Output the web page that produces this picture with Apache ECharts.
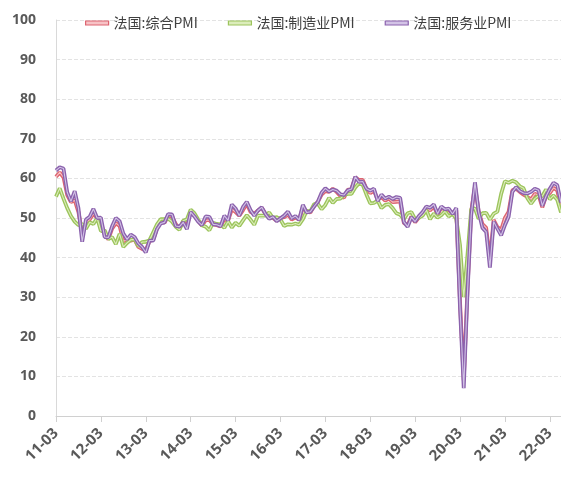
<!DOCTYPE html>
<html>
<head>
<meta charset="utf-8">
<script src="https://cdn.jsdelivr.net/npm/echarts@6/dist/echarts.min.js"></script>
<style>
    html, body { margin: 0; padding: 0; background: #fff; }
    #main { width: 561px; height: 488px; }
</style>
</head>
<body>
<div id="main"></div>
<script>
// 月份：2011-03 ~ 2022-06
let months = [];
for (let y = 11; y <= 22; y++) {
    for (let m = 1; m <= 12; m++) {
        if (y === 11 && m < 3) continue;
        if (y === 22 && m > 6) break;
        months.push(y + '-' + (m < 10 ? '0' + m : m));
    }
}

let legendNames = ['法国:综合PMI', '法国:制造业PMI', '法国:服务业PMI'];

let compositePMI = [
    60.4, 61.5, 60.3, 55.8, 54.0, 54.5, 51.5, 46.3, 48.7, 49.6,
    51.1, 50.0, 48.7, 45.9, 44.6, 47.3, 48.7, 48.0, 44.1, 44.5, 44.3, 44.6,
    42.7, 42.2, 41.9, 44.1, 44.6, 47.4, 49.1, 48.8, 50.5, 50.5, 48.5, 47.3,
    49.2, 47.9, 51.8, 50.6, 49.3, 48.1, 49.4, 49.5, 48.4, 48.2, 47.9, 49.7,
    49.3, 52.2, 51.5, 50.6, 52.0, 53.6, 51.5, 51.1, 51.9, 52.6, 51.0, 50.1,
    50.0, 49.3, 50.0, 50.2, 50.9, 49.6, 50.1, 49.6, 52.7, 51.6, 51.4, 53.1,
    54.1, 55.9, 56.8, 56.6, 57.4, 56.6, 55.6, 55.1, 57.1, 57.4, 60.3, 59.6,
    59.6, 57.3, 56.3, 56.9, 54.6, 55.3, 54.4, 54.9, 54.0, 54.1, 54.2, 48.7,
    48.2, 50.4, 48.9, 50.1, 51.2, 52.7, 51.9, 52.9, 50.8, 52.6, 52.1, 52.0,
    51.1, 52.0, 28.9, 9.0, 32.1, 51.7, 58.0, 51.6, 48.5, 47.5, 39.5, 49.5,
    47.7, 47.0, 50.0, 51.6, 57.0, 57.4, 56.6, 55.9, 55.3, 54.7, 56.1, 55.8,
    52.7, 55.5, 56.3, 57.6, 57.0, 52.5
];

let manufacturingPMI = [
    55.4, 57.5, 54.9, 52.5, 50.5, 49.1, 48.2, 48.5, 47.3, 48.9,
    48.5, 50.0, 46.7, 46.9, 44.7, 45.2, 43.4, 46.0, 42.7, 43.7, 44.5, 44.6,
    42.9, 43.9, 44.0, 44.4, 46.4, 48.4, 49.7, 49.7, 49.8, 49.1, 47.8, 47.0,
    49.3, 49.7, 52.1, 51.2, 49.6, 48.2, 47.8, 46.9, 48.8, 48.5, 48.4, 47.5,
    49.2, 47.6, 48.8, 48.0, 49.4, 50.7, 49.6, 48.3, 50.6, 50.6, 50.6, 51.4,
    50.0, 50.2, 49.6, 48.0, 48.4, 48.3, 48.6, 48.3, 49.7, 51.8, 51.7, 53.5,
    53.6, 52.2, 53.3, 55.1, 53.8, 54.8, 54.9, 55.8, 56.1, 56.1, 57.7, 58.8,
    58.4, 55.9, 53.7, 53.8, 54.4, 52.5, 53.3, 53.5, 52.5, 51.2, 50.8, 49.7,
    51.2, 51.5, 49.7, 50.0, 50.6, 52.0, 49.7, 51.1, 50.1, 50.7, 51.7, 50.4,
    51.1, 49.8, 43.2, 30.0, 40.6, 52.3, 52.4, 49.8, 51.2, 51.3, 49.6, 51.1,
    51.6, 56.1, 59.3, 58.9, 59.4, 59.0, 58.0, 57.5, 55.0, 53.6, 54.9, 55.6,
    55.5, 57.2, 54.7, 55.7, 54.6, 51.4
];

let servicesPMI = [
    62.0, 62.8, 62.5, 56.5, 54.2, 56.8, 52.5, 44.0, 49.6, 50.3,
    52.3, 50.0, 50.1, 45.2, 45.1, 47.9, 50.0, 49.2, 46.1, 44.6, 45.8, 45.2,
    43.6, 42.7, 41.3, 44.3, 44.3, 47.2, 48.6, 48.9, 51.0, 50.9, 48.0, 47.8,
    48.9, 47.2, 51.5, 50.4, 49.1, 48.2, 50.4, 50.3, 48.4, 48.3, 47.9, 50.6,
    49.4, 53.4, 52.4, 50.6, 52.8, 54.1, 52.0, 50.6, 51.9, 52.7, 51.0, 49.8,
    50.3, 49.2, 49.9, 50.6, 51.6, 49.9, 50.5, 49.5, 53.3, 51.4, 51.6, 52.9,
    54.1, 56.4, 57.5, 56.7, 57.2, 56.9, 56.0, 55.8, 57.0, 57.3, 60.4, 59.1,
    59.2, 57.4, 56.9, 57.4, 54.3, 55.9, 54.9, 55.4, 54.8, 55.3, 55.1, 49.0,
    47.8, 50.2, 49.1, 50.5, 51.5, 52.9, 52.6, 53.4, 51.1, 52.9, 52.2, 52.4,
    51.0, 52.5, 27.4, 7.0, 31.1, 50.7, 59.0, 51.5, 47.5, 46.5, 37.5, 49.1,
    47.3, 45.6, 48.2, 50.3, 56.6, 57.8, 56.8, 56.3, 56.2, 56.6, 57.4, 57.0,
    53.1, 55.5, 57.4, 58.9, 58.3, 53.9
];

let outerColors = ['#dd6470', '#9cc45c', '#8b62ad'];
let innerColors = ['#f7c3c6', '#dcedbb', '#d3c3e6'];
let seriesData = [compositePMI, manufacturingPMI, servicesPMI];

let series = [];
for (let i = 0; i < 3; i++) {
    // 外层粗线 + 内层浅色细线，做出双线效果
    series.push({
        name: legendNames[i],
        type: 'line',
        data: seriesData[i],
        symbol: 'none',
        z: 2 + i * 2,
        itemStyle: { color: outerColors[i] },
        lineStyle: { color: outerColors[i], width: 3.8 }
    });
    series.push({
        name: legendNames[i] + '_inner',
        type: 'line',
        data: seriesData[i],
        symbol: 'none',
        silent: true,
        z: 3 + i * 2,
        itemStyle: { color: innerColors[i] },
        lineStyle: { color: innerColors[i], width: 1.1 }
    });
}

let option = {
    backgroundColor: '#fff',
    animation: false,
    textStyle: {
        fontFamily: '"Noto Sans", "Noto Sans CJK SC", sans-serif'
    },
    legend: {
        top: 11,
        left: 80,
        itemGap: 30,
        itemWidth: 23,
        itemHeight: 4,
        textStyle: {
            color: '#404040',
            fontSize: 14,
            fontFamily: '"Noto Sans CJK SC", sans-serif'
        },
        data: legendNames.map(function (n, i) {
            return {
                name: n,
                icon: 'rect',
                itemStyle: { color: innerColors[i], borderColor: outerColors[i], borderWidth: 1.2 }
            };
        })
    },
    grid: {
        left: 56,
        right: 0,
        top: 20,
        bottom: 72,
        containLabel: false
    },
    xAxis: {
        type: 'category',
        boundaryGap: false,
        data: months,
        axisLine: {
            lineStyle: { color: '#d0d0d0', width: 1 }
        },
        axisTick: {
            show: true,
            interval: 11,
            length: 6,
            lineStyle: { color: '#d0d0d0' }
        },
        axisLabel: {
            interval: 11,
            rotate: 45,
            margin: 15,
            color: '#595959',
            fontSize: 15,
            fontWeight: 'bold'
        },
        splitLine: { show: false }
    },
    yAxis: {
        type: 'value',
        min: 0,
        max: 100,
        interval: 10,
        axisLine: {
            show: true,
            lineStyle: { color: '#d9d9d9' }
        },
        axisTick: { show: false },
        axisLabel: {
            color: '#595959',
            fontSize: 14,
            fontWeight: 'bold',
            margin: 20
        },
        splitLine: {
            show: true,
            lineStyle: { color: '#e3e3e3', type: 'dashed' }
        }
    },
    series: series
};

let chart = echarts.init(document.getElementById('main'));
chart.setOption(option);
</script>
</body>
</html>
